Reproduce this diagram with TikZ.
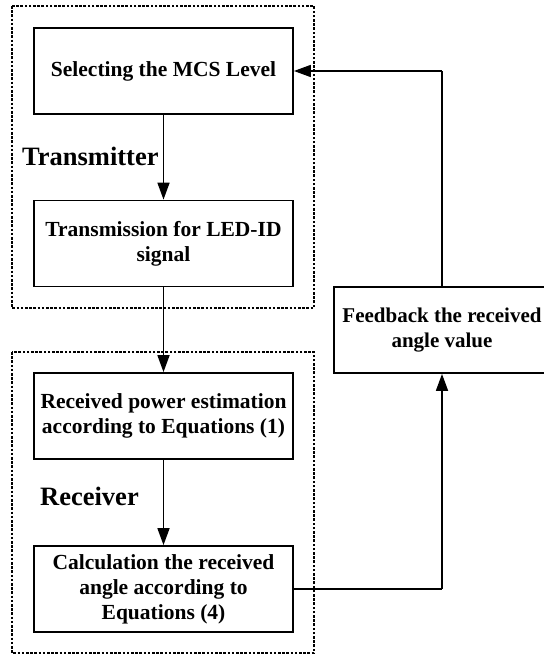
\documentclass[tikz,border=0pt]{standalone}
\usepackage{fontspec}
\setmainfont{Liberation Serif}
\usetikzlibrary{arrows.meta}

\begin{document}
\begin{tikzpicture}[x=1pt,y=-1pt,
  blockbox/.style={draw, line width=1.8pt, minimum width=259pt, minimum height=86pt,
    inner sep=0pt, align=center, font=\fontsize{21.5}{25}\selectfont\bfseries},
  groupbox/.style={draw, line width=1.6pt, dash pattern=on 2.6pt off 1.6pt},
  grouplabel/.style={anchor=base west, inner sep=0pt, font=\fontsize{26.5}{30}\selectfont\bfseries},
  flow/.style={line width=1.7pt, -{Triangle[length=17pt,width=12pt]}},
  link/.style={line width=1.7pt}]

  \useasboundingbox (0,0) rectangle (543,655);

  % transmitter and receiver groups
  \draw[groupbox] (12,6) rectangle (314,308);
  \draw[groupbox] (12,352) rectangle (314,653);

  % processing blocks
  \node[blockbox] (mcs)  at (163.5,71)  {Selecting the MCS Level};
  \node[blockbox] (tx)   at (163.5,243.5) {Transmission for LED-ID\\signal};
  \node[blockbox] (pow)  at (163.5,416) {Received power estimation\\according to Equations (1)};
  \node[blockbox] (ang)  at (163.5,589) {Calculation the received\\angle according to\\Equations (4)};
  \node[blockbox, minimum width=216pt, font=\fontsize{21}{25}\selectfont\bfseries] (fb) at (442,330) {Feedback the received\\angle value};

  % group labels
  \node[grouplabel] (txlabel) at (22,165) {Transmitter};
  \node[grouplabel] (rxlabel) at (40,505) {Receiver};

  % forward path
  \draw[flow] (mcs.south) -- (tx.north);
  \draw[flow] (tx.south) -- (pow.north);
  \draw[flow] (pow.south) -- (ang.north);

  % feedback loop
  \coordinate (turnlow) at (fb.south |- ang.east);
  \coordinate (turnhigh) at (fb.north |- mcs.east);
  \draw[link] (ang.east) -- (turnlow);
  \draw[flow] (turnlow) -- (fb.south);
  \draw[link] (fb.north) -- (turnhigh);
  \draw[flow] (turnhigh) -- (mcs.east);
\end{tikzpicture}
\end{document}
